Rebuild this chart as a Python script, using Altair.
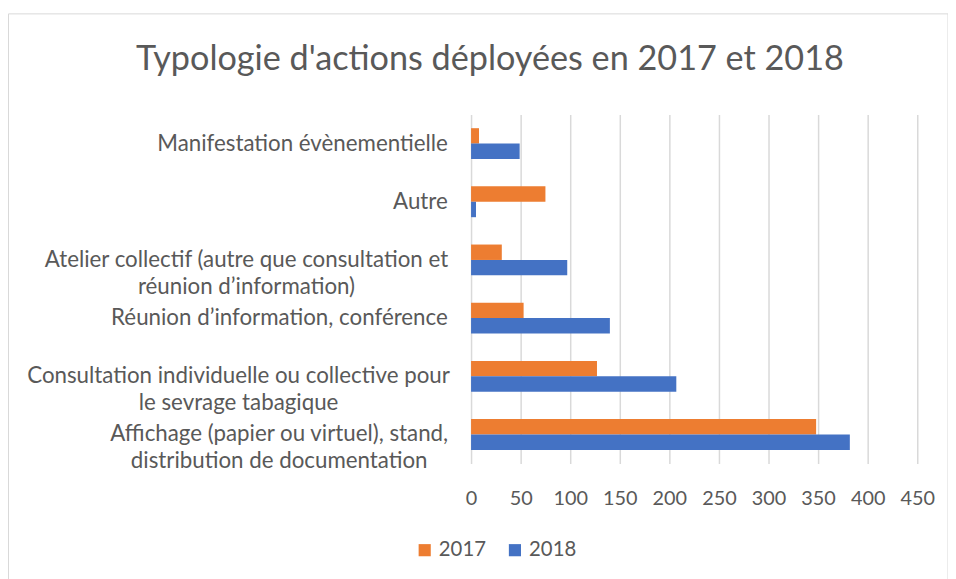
import altair as alt
import pandas as pd

categories = [
    "Manifestation évènementielle",
    "Autre",
    "Atelier collectif (autre que consultation et|réunion d’information)",
    "Réunion d’information, conférence",
    "Consultation individuelle ou collective pour|le sevrage tabagique",
    "Affichage (papier ou virtuel), stand,|distribution de documentation",
]
years = ["2017", "2018"]
values_2017 = [8, 75, 31, 53, 127, 348]
values_2018 = [49, 5, 97, 140, 207, 382]
x_ticks = [0, 50, 100, 150, 200, 250, 300, 350, 400, 450]
title_text = "Typologie d'actions déployées en 2017 et 2018"

rows = []
for c, a, b in zip(categories, values_2017, values_2018):
    rows.append({"cat": c, "year": "2017", "val": a})
    rows.append({"cat": c, "year": "2018", "val": b})
df = pd.DataFrame(rows)

FONT = "Lato"
GREY = "#595959"

pad_cond = [
    {"test": "indexof(datum.label, 'Atelier') >= 0", "value": 227},
    {"test": "indexof(datum.label, 'Consultation') >= 0", "value": 235},
    {"test": "indexof(datum.label, 'Affichage') >= 0", "value": 194},
]

bars = alt.Chart(df).mark_bar().encode(
    x=alt.X("val:Q", scale=alt.Scale(domain=[0, 450], nice=False),
            axis=alt.Axis(values=x_ticks, title=None, grid=True, gridColor="#d9d9d9",
                          gridWidth=1.5, ticks=False, domain=False, labelFontSize=20,
                          labelColor=GREY, labelFont=FONT, labelPadding=25,
                          labelOverlap=False, labelFlush=False)),
    y=alt.Y("cat:N", sort=categories,
            scale=alt.Scale(paddingInner=0.47, paddingOuter=0.235),
            axis=alt.Axis(title=None, ticks=False, domain=False, grid=False,
                          labelFontSize=22.5, labelColor=GREY, labelFont=FONT,
                          labelLimit=0, labelLineHeight=27,
                          labelExpr="split(datum.label, '|')",
                          labelAlign={"condition": {"test": "indexof(datum.label, '|') >= 0", "value": "center"}, "value": "right"},
                          labelPadding={"condition": pad_cond, "value": 24})),
    yOffset=alt.YOffset("year:N", sort=years),
    color=alt.Color("year:N", sort=years,
                    scale=alt.Scale(domain=years, range=["#ED7D31", "#4472C4"]),
                    legend=alt.Legend(title=None, orient="none", legendX=-57, legendY=429,
                                      direction="horizontal", symbolType="square",
                                      symbolSize=150, symbolStrokeWidth=0,
                                      labelFontSize=20.5, labelColor=GREY, labelFont=FONT,
                                      columnPadding=18)),
)

frame = alt.Chart(pd.DataFrame({"a": [0]})).mark_rect(
    fill=None, stroke="#d9d9d9", strokeWidth=1
).encode(
    x=alt.value(-466.5), x2=alt.value(481), y=alt.value(-101.5), y2=alt.value(480)
)

chart = alt.layer(frame, bars).properties(
    width=450, height=352,
    title=alt.TitleParams(title_text, fontSize=34.5, font=FONT, color=GREY,
                          fontWeight="normal", anchor="middle", frame="group",
                          baseline="alphabetic", dx=-206, offset=-92),
    autosize=alt.AutoSizeParams(type="none"),
    padding={"left": 467, "top": 105, "right": 31, "bottom": 114},
).configure_view(stroke=None)

chart.save("out.html", embed_options={"renderer": "svg", "actions": False})
